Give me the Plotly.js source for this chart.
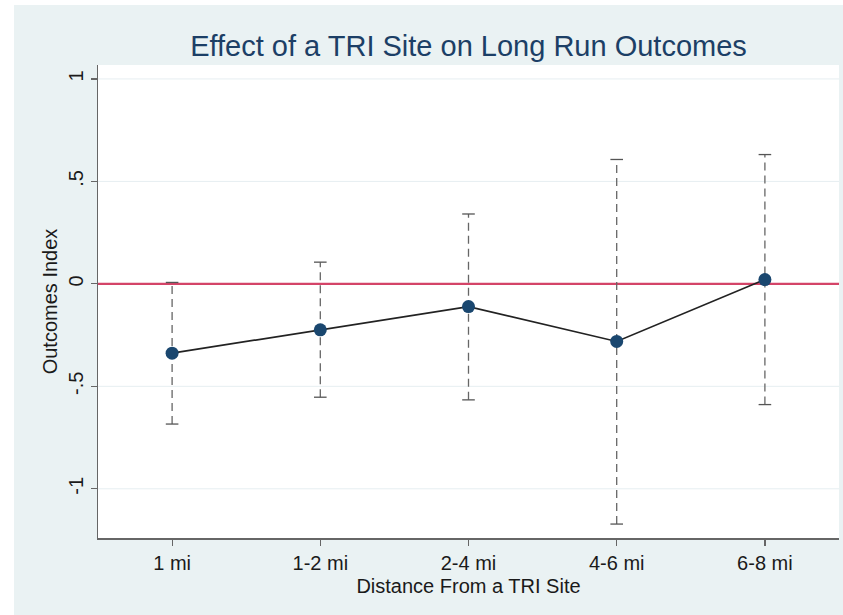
<!DOCTYPE html>
<html><head><meta charset="utf-8">
<script src="https://cdn.plot.ly/plotly-3.0.1.min.js"></script>
<style>html,body{margin:0;padding:0;background:#fff}</style>
</head><body><div id="chart" style="width:843px;height:615px"></div>
<script>
const categories = ["1 mi","1-2 mi","2-4 mi","4-6 mi","6-8 mi"];
const estimates = [-0.338,-0.224,-0.111,-0.281,0.021];
const ciUpper = [0.007,0.106,0.341,0.607,0.631];
const ciLower = [-0.684,-0.553,-0.566,-1.172,-0.589];
const yTickVals = [-1,-0.5,0,0.5,1];
const yTickText = ["-1","-.5","0",".5","1"];
const refLineY = 0;

const W = 843, H = 615;
const M = {l:98, r:4, t:65, b:77};
const pw = W - M.l - M.r, ph = H - M.t - M.b;
const px = x => (x - M.l) / pw;
const py = y => (H - M.b - y) / ph;

const font = "Liberation Sans, Arial, sans-serif";
const ciX = [], ciY = [];
categories.forEach((c,i) => { ciX.push(c,c,null); ciY.push(ciLower[i], ciUpper[i], null); });
const capX = categories.concat(categories);
const capY = ciLower.concat(ciUpper);

const traces = [
  {type:'scatter', mode:'lines', x:ciX, y:ciY, line:{color:'#666', width:1.3, dash:'8px,5px'}, hoverinfo:'skip', showlegend:false},
  {type:'scatter', mode:'markers', x:capX, y:capY, marker:{symbol:'line-ew', size:9, color:'#555', line:{color:'#555', width:1.3}}, hoverinfo:'skip', showlegend:false},
  {type:'scatter', mode:'lines+markers', x:categories, y:estimates, line:{color:'#222', width:1.7}, marker:{color:'#1a476f', size:13}, showlegend:false}
];

const gridShapes = yTickVals.filter(v => v !== refLineY).map(v => ({type:'line', xref:'paper', yref:'y', x0:0, x1:1, y0:v, y1:v, line:{color:'#e6eef1', width:1}, layer:'below'}));

const layout = {
  width:W, height:H, margin:M,
  paper_bgcolor:'#eaf2f3', plot_bgcolor:'#ffffff',
  font:{family:font, color:'#1a1a1a'},
  showlegend:false,
  title:{text:'Effect of a TRI Site on Long Run Outcomes', font:{family:font, size:29, color:'#1c3f66'}, x:0.5, xref:'paper', xanchor:'center', y:1-46/H, yref:'container', yanchor:'middle'},
  xaxis:{type:'category', range:[-0.5,4.5], showline:true, linecolor:'#666', linewidth:1.5, ticks:'outside', ticklen:6, tickcolor:'#666', tickwidth:1.2, showgrid:false, zeroline:false, tickfont:{size:20, family:font, color:'#1a1a1a'}, title:{text:'Distance From a TRI Site', font:{size:20, family:font, color:'#1a1a1a'}, standoff:6}},
  yaxis:{range:[-1.24,1.068], tickvals:yTickVals, ticktext:yTickText, tickangle:-90, showline:true, linecolor:'#666', linewidth:1.5, ticks:'outside', ticklen:6, tickcolor:'#666', tickwidth:1.2, showgrid:false, zeroline:false, tickfont:{size:20, family:font, color:'#1a1a1a'}, title:{text:'Outcomes Index', font:{size:20, family:font, color:'#1a1a1a'}, standoff:1}},
  shapes:[
    {type:'rect', xref:'paper', yref:'paper', x0:px(0), x1:px(14), y0:py(H), y1:py(0), fillcolor:'#ffffff', line:{width:0}, layer:'below'},
    {type:'rect', xref:'paper', yref:'paper', x0:px(0), x1:px(W), y0:py(5), y1:py(0), fillcolor:'#ffffff', line:{width:0}, layer:'below'}
  ].concat(gridShapes).concat([
    {type:'line', xref:'paper', yref:'y', x0:0, x1:1, y0:refLineY, y1:refLineY, line:{color:'#d44468', width:2.4}, layer:'below'}
  ])
};
Plotly.newPlot('chart', traces, layout, {staticPlot:true, displayModeBar:false});
</script></body></html>
